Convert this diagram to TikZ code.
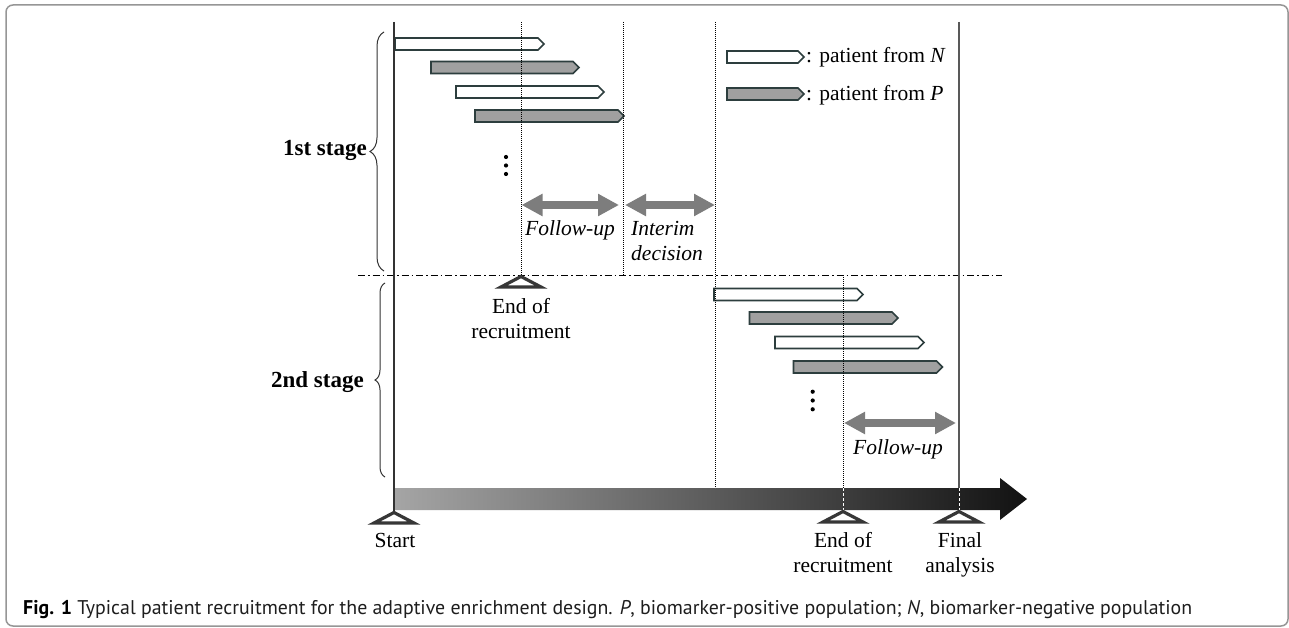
\documentclass[tikz,border=0pt]{standalone}
\usepackage{fontspec}
\setmainfont{Liberation Serif}
\newfontfamily\capfont{PT Sans}
\usetikzlibrary{arrows.meta,decorations.pathreplacing,shadings}

\definecolor{barline}{RGB}{45,62,62}
\definecolor{barfill}{RGB}{160,160,160}
\definecolor{arrgray}{RGB}{125,125,125}
\definecolor{tricol}{RGB}{55,55,55}
\definecolor{framecol}{RGB}{150,150,150}
\definecolor{axleft}{RGB}{165,165,165}
\definecolor{axmid}{RGB}{80,80,80}
\definecolor{axright}{RGB}{18,18,18}
\definecolor{captxt}{RGB}{30,30,30}

\tikzset{
  lbl/.style={font=\fontsize{21.5}{24}\selectfont, inner sep=0pt},
  stagelbl/.style={font=\fontsize{23}{26}\selectfont\bfseries, inner sep=0pt},
  dotline/.style={line width=1pt, dash pattern=on 1pt off 1pt},
  dashdotline/.style={line width=0.9pt, dash pattern=on 7pt off 3pt on 1.5pt off 3pt},
  twoway/.style={arrgray, line width=7.5pt, {Triangle[length=21pt,width=21pt]}-{Triangle[length=21pt,width=21pt]}},
  milestone/.style={tricol, line width=3.2pt, fill=white, line join=miter},
  stagebrace/.style={decorate, decoration={brace, amplitude=#1}, line width=1pt, black!80},
  pics/patbar/.style 2 args={code={
    \draw[barline, line width=1.6pt, fill=#2] (0,-6) -- ({#1-6},-6) -- (#1,0) -- ({#1-6},6) -- (0,6) -- cycle;}},
  pics/mstone/.style={code={
    \draw[milestone] (0,1.5) -- (20,12) -- (-20,12) -- cycle;}},
}

\begin{document}
\begin{tikzpicture}[x=1pt,y=-1pt]
\useasboundingbox (0,0) rectangle (1289,628);
\fill[white] (0,0) rectangle (1289,628);
\draw[framecol, line width=1.5pt, rounded corners=7pt] (6,5) rectangle (1288,626);

% coordinates
\coordinate (sT) at (394,22);  \coordinate (sB) at (394,511);
\coordinate (d1T) at (521,22); \coordinate (d1B) at (521,275);
\coordinate (d2T) at (623,22); \coordinate (d2B) at (623,275);
\coordinate (d3T) at (715,22); \coordinate (d3B) at (715,488);
\coordinate (d4T) at (843,275); \coordinate (d4B) at (843,488); \coordinate (d4E) at (843,510);
\coordinate (fT) at (959,22);  \coordinate (fB) at (959,488); \coordinate (fE) at (959,510);
\coordinate (hL) at (358,275); \coordinate (hR) at (1002,275);

% bottom time axis
\shade[left color=axleft, middle color=axmid, right color=axright]
  (394,488) -- (1000,488) -- (1000,478) -- (1027,499) -- (1000,520) -- (1000,510) -- (394,510) -- cycle;

% stage separator
\draw[dashdotline] (hL) -- (hR);

% braces and stage labels
\draw[stagebrace=14pt] (384,271) -- (384,32);
\draw[stagebrace=10pt] (385,477) -- (385,283);
\node[stagelbl, anchor=base east] (st1) at (367,156) {1st stage};
\node[stagelbl, anchor=base east] (st2) at (364,387) {2nd stage};

% patient bars, 1st stage
\pic at (395,44) {patbar={149}{white}};
\pic at (431,67.5) {patbar={148}{barfill}};
\pic at (456,92) {patbar={148}{white}};
\pic at (475,116) {patbar={149}{barfill}};
% patient bars, 2nd stage
\pic at (714,294.5) {patbar={149}{white}};
\pic at (749.5,318) {patbar={148.5}{barfill}};
\pic at (775,342.5) {patbar={149}{white}};
\pic at (793.5,367) {patbar={149}{barfill}};
% legend
\pic at (727,57) {patbar={77}{white}};
\pic at (727,94) {patbar={77}{barfill}};
\node[lbl, anchor=base west] (legN) at (806,63) {: patient from \textit{N}};
\node[lbl, anchor=base west] (legP) at (806,101) {: patient from \textit{P}};

% vertical lines
\draw[black!80, line width=1.5pt] (sT) -- (sB);
\draw[black!65, line width=1.3pt] (fT) -- (fB);
\draw[dotline] (d1T) -- (d1B);
\draw[dotline] (d2T) -- (d2B);
\draw[dotline] (d3T) -- (d3B);
\draw[dotline] (d4T) -- (d4B);
\draw[white, line width=1pt, dash pattern=on 3pt off 2pt] (d4B) -- (d4E);
\draw[white, line width=1pt, dash pattern=on 3pt off 2pt] (fB) -- (fE);

% continuation dots
\foreach \yy in {157,165.5,174} \fill (506,\yy) circle (2.1);
\foreach \yy in {391.7,400.5,409.3} \fill (812.7,\yy) circle (2.1);

% double arrows
\coordinate (a1L) at (521.5,205); \coordinate (a1R) at (619,205);
\coordinate (a2L) at (625,205);   \coordinate (a2R) at (715,205);
\coordinate (a3L) at (844,423);   \coordinate (a3R) at (956,423);
\draw[twoway] (a1L) -- (a1R);
\draw[twoway] (a2L) -- (a2R);
\draw[twoway] (a3L) -- (a3R);
\node[lbl, anchor=base, font=\fontsize{21.5}{24}\selectfont\itshape] (fu1) at (570,236) {Follow-up};
\node[lbl, anchor=base west, font=\fontsize{21.5}{24}\selectfont\itshape] (im1) at (631,236) {Interim};
\node[lbl, anchor=base west, font=\fontsize{21.5}{24}\selectfont\itshape] (im2) at (631,261) {decision};
\node[lbl, anchor=base, font=\fontsize{21.5}{24}\selectfont\itshape] (fu2) at (898,454) {Follow-up};

% milestones
\pic at (d1B) {mstone};
\pic at (sB) {mstone};
\pic at (d4E) {mstone};
\pic at (fE) {mstone};
\node[lbl, anchor=base] (er1a) at (521,313) {End of};
\node[lbl, anchor=base] (er1b) at (521,338) {recruitment};
\node[lbl, anchor=base] (stl) at (395,547) {Start};
\node[lbl, anchor=base] (er2a) at (843,547) {End of};
\node[lbl, anchor=base] (er2b) at (843,572) {recruitment};
\node[lbl, anchor=base] (fa1) at (960,547) {Final};
\node[lbl, anchor=base] (fa2) at (960,572) {analysis};

% caption
\node[inner sep=0pt, anchor=base west, text=captxt] (cap) at (23,614)
  {\resizebox{1169pt}{!}{\capfont\fontsize{20}{24}\selectfont\textcolor{black}{\textbf{Fig. 1}} Typical patient recruitment for the adaptive enrichment design. \textit{P}, biomarker-positive population; \textit{N}, biomarker-negative population}};
\end{tikzpicture}
\end{document}
